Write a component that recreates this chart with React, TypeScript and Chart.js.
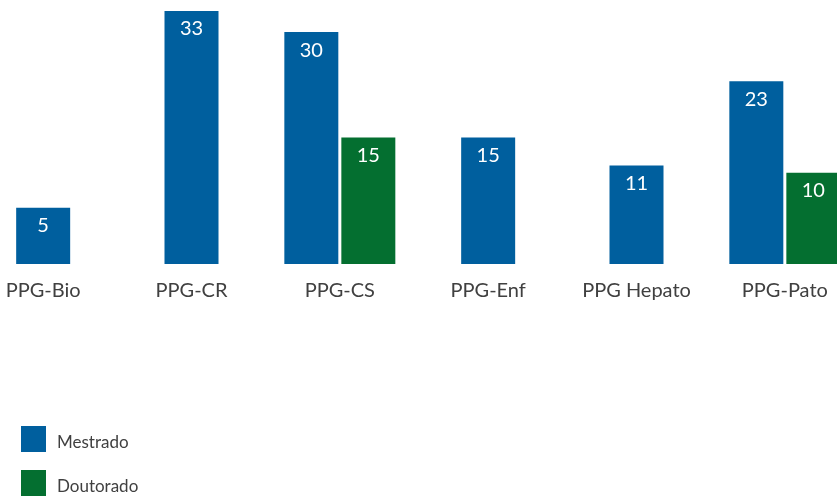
import React, { useEffect, useRef } from "react";
import { Chart, registerables } from "chart.js";

Chart.register(...registerables);

const categories = ["PPG-Bio", "PPG-CR", "PPG-CS", "PPG-Enf", "PPG Hepato", "PPG-Pato"];
const mestrado = [5, 33, 30, 15, 11, 23];
const doutorado = [null, null, 15, null, null, 10];
const seriesNames = ["Mestrado", "Doutorado"];
const seriesColors = ["#005F9E", "#046F30"];

const FONT = "Lato, 'Open Sans', sans-serif";

const valueLabels = {
  id: "valueLabels",
  afterDatasetsDraw(chart: any) {
    const ctx = chart.ctx;
    ctx.save();
    ctx.fillStyle = "#ffffff";
    ctx.font = `20px ${FONT}`;
    ctx.textAlign = "center";
    ctx.textBaseline = "middle";
    chart.data.datasets.forEach((ds: any, di: number) => {
      const meta = chart.getDatasetMeta(di);
      meta.data.forEach((el: any, i: number) => {
        const v = ds.data[i];
        if (v === null || v === undefined) return;
        ctx.fillText(String(v), el.x, el.y + 18);
      });
    });
    ctx.restore();
  },
};

export default function App() {
  const ref = useRef<HTMLCanvasElement | null>(null);

  useEffect(() => {
    if (!ref.current) return;
    const chart = new Chart(ref.current, {
      type: "bar",
      data: {
        labels: categories,
        datasets: [
          {
            label: seriesNames[0],
            data: mestrado,
            backgroundColor: seriesColors[0],
            base: -3,
          } as any,
          {
            label: seriesNames[1],
            data: doutorado,
            backgroundColor: seriesColors[1],
            base: -3,
          } as any,
        ],
      },
      options: {
        responsive: false,
        animation: false,
        devicePixelRatio: 1,
        layout: { padding: { left: 0, right: 0, top: 11, bottom: 196 } },
        datasets: {
          bar: {
            skipNull: true,
            categoryPercentage: 0.7686,
            barPercentage: 0.947,
            maxBarThickness: 54,
          },
        },
        plugins: {
          legend: { display: false },
          tooltip: { enabled: false },
        },
        scales: {
          x: {
            grid: { display: false, drawTicks: false },
            border: { display: false },
            afterFit: (scale: any) => {
              scale.height = 40;
            },
            ticks: {
              color: "#404040",
              font: { family: FONT, size: 20 },
              padding: 15,
              maxRotation: 0,
              autoSkip: false,
            },
          },
          y: {
            display: false,
            min: -3,
            max: 33,
          },
        },
      },
      plugins: [valueLabels],
    });
    return () => chart.destroy();
  }, []);

  return (
    <div style={{ position: "fixed", left: 0, top: 0, width: 837, height: 500, background: "#fff", overflow: "hidden" }}>
      <canvas ref={ref} width={890} height={500} style={{ position: "absolute", left: -31, top: 0 }} />
      {seriesNames.map((name, i) => (
        <div
          key={name}
          style={{ position: "absolute", left: 21, top: 426 + i * 44, height: 26, display: "flex", alignItems: "center" }}
        >
          <div style={{ width: 25, height: 26, background: seriesColors[i] }} />
          <span style={{ marginLeft: 11, marginTop: 4, fontFamily: FONT, fontSize: 17, color: "#404040" }}>{name}</span>
        </div>
      ))}
    </div>
  );
}
